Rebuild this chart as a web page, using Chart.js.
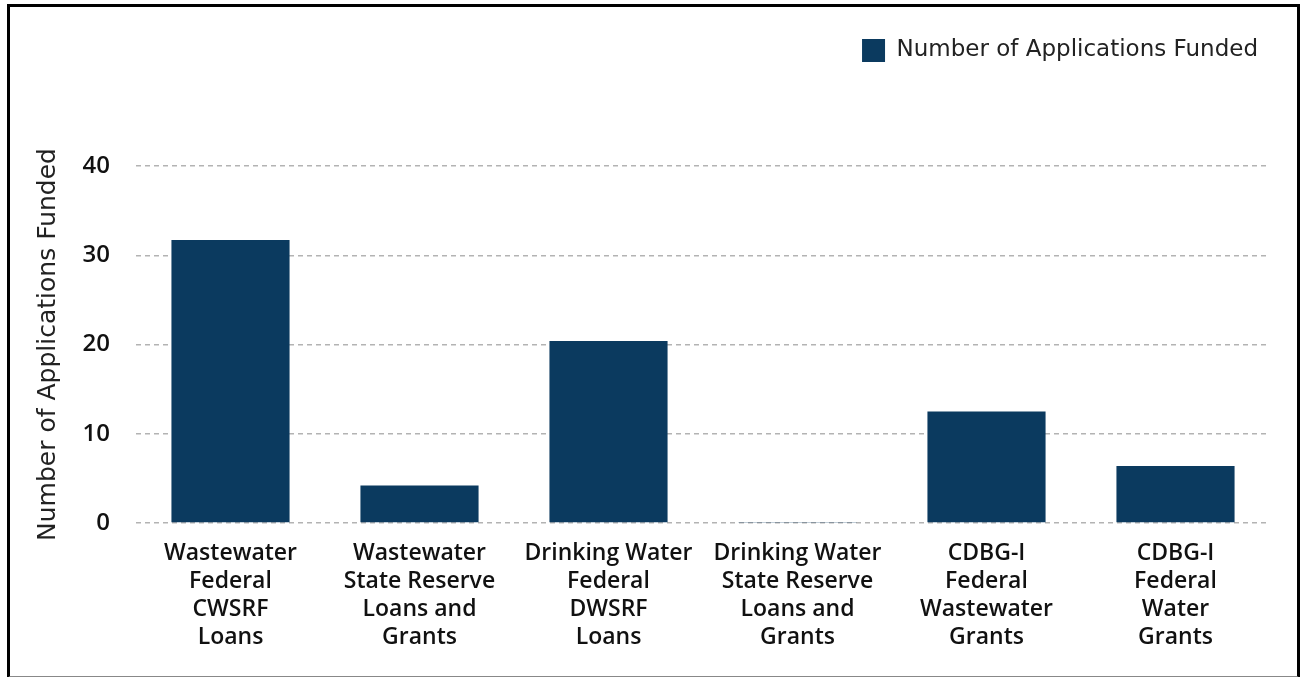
<!DOCTYPE html>
<html>
<head>
<meta charset="utf-8">
<script src="https://cdn.jsdelivr.net/npm/chart.js@4"></script>
<style>
    html, body { margin: 0; padding: 0; background: #fff; }
    #wrap { position: relative; width: 1301px; height: 677px; }
    #frame {
        position: absolute; left: 7px; top: 4px; width: 1287px; height: 669px;
        border: 3px solid #000; border-bottom: 2px solid #888; pointer-events: none;
    }
</style>
</head>
<body>
<div id="wrap">
    <canvas id="barChart1" width="1301" height="677"></canvas>
    <div id="frame"></div>
</div>
<script>
// Dữ liệu biểu đồ
var categories = [
    ["Wastewater", "Federal", "CWSRF", "Loans"],
    ["Wastewater", "State Reserve", "Loans and", "Grants"],
    ["Drinking Water", "Federal", "DWSRF", "Loans"],
    ["Drinking Water", "State Reserve", "Loans and", "Grants"],
    ["CDBG-I", "Federal", "Wastewater", "Grants"],
    ["CDBG-I", "Federal", "Water", "Grants"]
];
var applicationsFunded = [31.7, 4.2, 20.4, 0.1, 12.5, 6.4];
var yTicks = [0, 10, 20, 30, 40];

var seriesLabel = 'Number of Applications Funded';
var fontFamily = '"DejaVu Sans", "Noto Sans", sans-serif';
var labelFont = '"Open Sans", "Noto Sans", sans-serif';

function ChartPage() { }

ChartPage.prototype = {
    barCharts: [],
    legendGap: 94, // khoảng trống giữa chú thích và vùng vẽ

    init: function () {
        var me = this;
        me.barCharts.forEach(chart => chart.destroy());
        me.barCharts = [];

        var barData = {
            labels: categories,
            datasets: [{
                label: seriesLabel,
                data: applicationsFunded,
                backgroundColor: "#0b3a5f",
                barPercentage: 0.625,
                categoryPercentage: 1
            }]
        };

        // Nới chiều cao chú thích để đẩy vùng vẽ xuống
        var legendGapPlugin = {
            id: 'legendGap',
            beforeInit: function (chart) {
                var fitLegend = chart.legend.fit;
                chart.legend.fit = function () {
                    fitLegend.call(this);
                    this.height += me.legendGap;
                };
            }
        };

        me.barCharts.push(new Chart(document.getElementById("barChart1"), {
            type: 'bar',
            data: barData,
            plugins: [legendGapPlugin],
            options: {
                responsive: false,
                animation: false,
                layout: { padding: { top: 27, right: 31, bottom: 0, left: 0 } },
                plugins: {
                    tooltip: { enabled: false },
                    legend: {
                        align: 'end',
                        labels: {
                            boxWidth: 23,
                            boxHeight: 23,
                            padding: 12,
                            color: '#222',
                            font: { family: fontFamily, size: 23 }
                        }
                    }
                },
                scales: {
                    x: {
                        grid: { display: false },
                        border: { display: false },
                        ticks: {
                            color: '#111',
                            padding: 8,
                            maxRotation: 0,
                            autoSkip: false,
                            font: { family: labelFont, size: 23, weight: 600, lineHeight: 1.22 }
                        },
                        afterFit: function (scale) { scale.height = 154; }
                    },
                    y: {
                        min: 0,
                        max: 40,
                        afterBuildTicks: function (scale) {
                            scale.ticks = yTicks.map(v => ({ value: v }));
                        },
                        grid: { color: '#b3b3b3', lineWidth: 1.5, drawTicks: false },
                        border: { display: false, dash: [5, 4] },
                        ticks: {
                            color: '#111',
                            padding: 26,
                            font: { family: labelFont, size: 24, weight: 600 }
                        },
                        title: {
                            display: true,
                            text: seriesLabel,
                            color: '#222',
                            padding: { top: 33, bottom: 0 },
                            font: { family: fontFamily, size: 25 }
                        },
                        afterFit: function (scale) { scale.width = 136; }
                    }
                }
            }
        }));
    }
};

new ChartPage().init();
</script>
</body>
</html>
